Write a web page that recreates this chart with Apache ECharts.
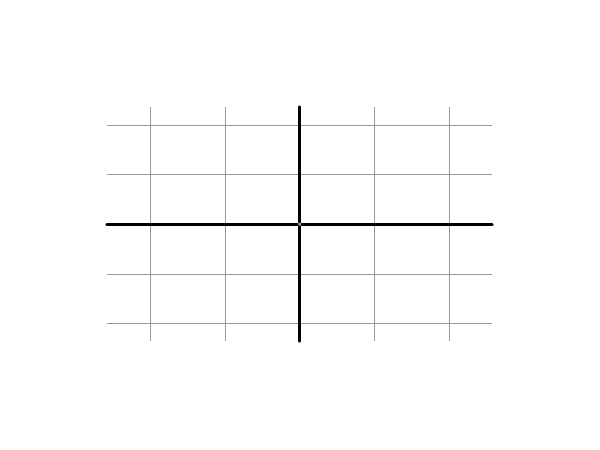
<!DOCTYPE html>
<html>
<head>
<meta charset="utf-8">
<script src="https://cdn.jsdelivr.net/npm/echarts@6/dist/echarts.min.js"></script>
<style>html,body{margin:0;padding:0;background:#fff;}#c{width:600px;height:450px;}</style>
</head>
<body>
<div id="c"></div>
<script>
var xRange = [-2.583, 2.578];
var yRange = [-2.350, 2.358];
var points = [[0, 0]];

var chart = echarts.init(document.getElementById('c'), null, {renderer: 'canvas'});
chart.setOption({
  animation: false,
  backgroundColor: '#ffffff',
  grid: {left: 107, right: 108, top: 107, bottom: 109, containLabel: false},
  xAxis: {
    type: 'value', min: xRange[0], max: xRange[1], splitNumber: 5,
    axisLine: {show: true, onZero: true, lineStyle: {color: '#000', width: 3}},
    axisTick: {show: false}, axisLabel: {show: false},
    splitLine: {show: true, showMinLine: false, showMaxLine: false, lineStyle: {color: '#999', width: 1}}
  },
  yAxis: {
    type: 'value', min: yRange[0], max: yRange[1], splitNumber: 5,
    axisLine: {show: true, onZero: true, lineStyle: {color: '#000', width: 3}},
    axisTick: {show: false}, axisLabel: {show: false},
    splitLine: {show: true, showMinLine: false, showMaxLine: false, lineStyle: {color: '#999', width: 1}}
  },
  series: [{
    type: 'scatter', data: points, symbol: 'rect', symbolSize: 3,
    itemStyle: {color: '#a4b9e3'}, z: 10
  }]
});
</script>
</body>
</html>
